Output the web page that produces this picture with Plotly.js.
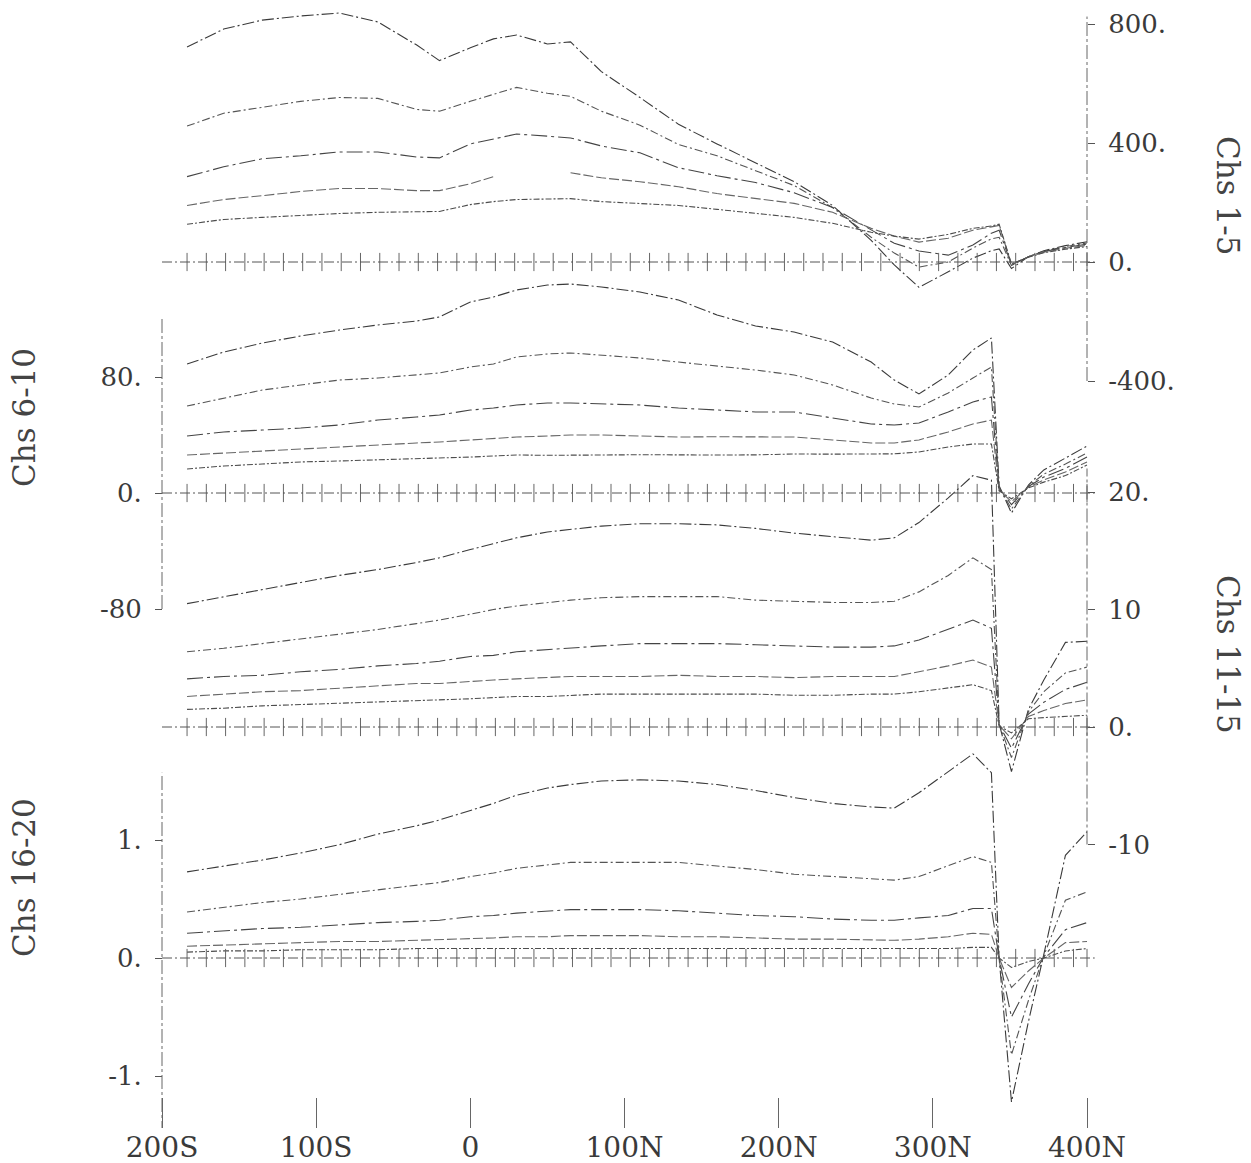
<!DOCTYPE html>
<html><head><meta charset="utf-8">
<script src="https://cdn.plot.ly/plotly-3.0.1.min.js"></script>
<style>html,body{margin:0;padding:0;background:#fff}#chart{width:1251px;height:1163px}</style>
</head><body><div id="chart"></div>
<script>
// ---- data ----
const stations = [-183.75, -160, -135, -110, -85, -60, -35, -20, 0, 15, 30, 50, 65, 85, 110, 135, 160, 185, 210, 235, 260, 275, 291, 310, 326, 338, 343, 351, 362, 372, 386, 400];
const tickStations = [-183.75,-171.25,-158.75,-146.25,-133.75,-121.25,-108.75,-96.25,-83.75,-71.25,-58.75,-46.25,-33.75,-21.25,-8.75,3.75,16.25,28.75,41.25,53.75,66.25,78.75,91.25,103.75,116.25,128.75,141.25,153.75,166.25,178.75,191.25,203.75,216.25,228.75,241.25,253.75,266.25,278.75,291.25,303.75,316.25,328.75,341.25,353.75,366.25,378.75,391.25,400];

// Chs 1-5
const ch1 = [723, 783, 813, 827, 837, 807, 730, 677, 720, 750, 763, 733, 740, 640, 553, 463, 397, 333, 270, 190, 73, -10, -85, -33, 13, 38, 44, -22, 18, 38, 55, 68];
const ch2 = [457, 500, 520, 540, 553, 550, 513, 507, 540, 563, 587, 567, 557, 507, 460, 395, 357, 307, 257, 183, 83, 30, -17, 0, 47, 78, 83, -12, 18, 36, 52, 64];
const ch3 = [287, 320, 347, 357, 370, 370, 353, 350, 397, 413, 430, 423, 417, 390, 367, 317, 290, 267, 233, 183, 107, 63, 37, 23, 57, 97, 107, -10, 18, 35, 49, 60];
const ch4 = [190, 210, 223, 237, 247, 247, 240, 240, 263, 287, null, null, 300, 283, 270, 253, 230, 213, 197, 167, 113, 87, 67, 80, 107, 118, 123, -8, 17, 33, 46, 56];
const ch5 = [127, 143, 150, 157, 163, 167, 170, 170, 193, 203, 210, 213, 213, 203, 197, 190, 177, 163, 150, 130, 100, 87, 77, 93, 113, 121, 127, -6, 16, 31, 43, 52];
// Chs 6-10
const ch6 = [89.0, 97.2, 103.4, 108.3, 112.4, 115.9, 118.6, 121.4, 131.7, 135.2, 140.0, 143.4, 144.1, 142.1, 138.6, 133.1, 122.8, 115.2, 111.0, 104.1, 90.3, 77.9, 68.3, 81.4, 98.6, 106.9, 5, -13.8, 5.5, 15.9, 24.1, 32.4];
const ch7 = [60, 65.5, 71, 74.5, 77.9, 79.3, 81.4, 82.8, 86.9, 89, 93.8, 95.9, 96.6, 95.2, 93.1, 90.3, 87.6, 84.8, 81.4, 74.5, 65.5, 61.4, 59.3, 69, 79.3, 86.9, 4, -11, 4.8, 13, 20, 27.6];
const ch8 = [39.3, 42.1, 43.4, 44.8, 46.9, 50.3, 52.4, 53.8, 57.2, 58.6, 60.7, 62.1, 62.1, 61.4, 60.7, 58.6, 57.2, 55.9, 55.9, 51.7, 47.6, 46.9, 48.3, 55.9, 62.8, 66.2, 3, -8, 4.5, 11, 17, 24.8];
const ch9 = [26.2, 27.6, 29, 30.3, 31.7, 33.1, 34.5, 35.2, 36.6, 37.2, 38.6, 39.3, 40, 40, 39.3, 38.6, 38.8, 38.5, 38.6, 36.6, 34.5, 34.5, 36.6, 42.1, 47.6, 50.3, 2, -6, 4, 9, 14.5, 21.4];
const ch10 = [16.6, 18.6, 20, 21.4, 22.1, 22.8, 23.4, 24.1, 24.8, 25.5, 26.2, 26.0, 26.3, 26.2, 26.4, 26.1, 26.2, 26.3, 26.9, 26.8, 26.9, 27.0, 28.3, 31.7, 33.8, 33.8, 1.5, -4, 3.5, 7.5, 12, 19.3];
// Chs 11-15
const ch11 = [10.5, 11.1, 11.7, 12.3, 12.9, 13.4, 14.0, 14.4, 15.1, 15.6, 16.1, 16.6, 16.8, 17.1, 17.3, 17.3, 17.2, 16.9, 16.5, 16.2, 15.9, 16.1, 17.4, 19.5, 21.4, 21.0, 0.3, -3.8, 1.5, 4.0, 7.2, 7.3];
const ch12 = [6.4, 6.7, 7.1, 7.5, 7.9, 8.3, 8.8, 9.1, 9.6, 10.0, 10.3, 10.6, 10.8, 11.0, 11.1, 11.1, 11.1, 10.8, 10.7, 10.6, 10.6, 10.7, 11.5, 12.9, 14.4, 13.4, 0.25, -2.6, 1.3, 3.0, 4.6, 5.1];
const ch13 = [4.1, 4.3, 4.4, 4.7, 4.9, 5.2, 5.4, 5.6, 6.0, 6.1, 6.4, 6.6, 6.7, 6.9, 7.1, 7.1, 7.1, 7.0, 6.9, 6.8, 6.8, 6.9, 7.4, 8.3, 9.1, 8.4, 0.2, -1.8, 1.1, 2.1, 3.2, 3.8];
const ch14 = [2.6, 2.8, 3.0, 3.1, 3.3, 3.5, 3.7, 3.7, 3.9, 4.0, 4.1, 4.2, 4.3, 4.3, 4.3, 4.4, 4.3, 4.3, 4.2, 4.3, 4.3, 4.3, 4.7, 5.2, 5.7, 5.1, 0.15, -1.0, 0.9, 1.4, 2.0, 2.3];
const ch15 = [1.5, 1.6, 1.8, 1.9, 2.0, 2.1, 2.2, 2.3, 2.4, 2.5, 2.6, 2.6, 2.7, 2.8, 2.8, 2.8, 2.8, 2.8, 2.7, 2.7, 2.8, 2.8, 3.0, 3.3, 3.6, 3.1, 0.1, -0.5, 0.7, 0.8, 0.9, 1.0];
// Chs 16-20
const ch16 = [0.73, 0.78, 0.83, 0.89, 0.96, 1.05, 1.12, 1.17, 1.25, 1.31, 1.38, 1.44, 1.47, 1.50, 1.51, 1.50, 1.47, 1.42, 1.36, 1.31, 1.28, 1.27, 1.40, 1.58, 1.73, 1.57, 0, -1.22, -0.54, 0.03, 0.87, 1.07];
const ch17 = [0.39, 0.43, 0.47, 0.50, 0.54, 0.58, 0.62, 0.64, 0.69, 0.72, 0.76, 0.79, 0.81, 0.81, 0.81, 0.81, 0.78, 0.75, 0.71, 0.69, 0.67, 0.66, 0.69, 0.78, 0.86, 0.81, 0, -0.82, -0.36, 0.02, 0.49, 0.56];
const ch18 = [0.21, 0.23, 0.25, 0.26, 0.28, 0.30, 0.31, 0.32, 0.35, 0.36, 0.38, 0.40, 0.41, 0.41, 0.41, 0.40, 0.38, 0.36, 0.35, 0.33, 0.32, 0.32, 0.34, 0.36, 0.42, 0.42, 0, -0.50, -0.22, 0.01, 0.24, 0.30];
const ch19 = [0.10, 0.11, 0.12, 0.13, 0.14, 0.14, 0.15, 0.15, 0.16, 0.17, 0.18, 0.18, 0.19, 0.19, 0.19, 0.18, 0.18, 0.17, 0.16, 0.16, 0.15, 0.15, 0.16, 0.18, 0.21, 0.20, 0, -0.25, -0.11, 0, 0.13, 0.14];
const ch20 = [0.05, 0.06, 0.06, 0.07, 0.07, 0.07, 0.08, 0.08, 0.08, 0.08, 0.08, 0.08, 0.08, 0.08, 0.08, 0.08, 0.08, 0.08, 0.08, 0.08, 0.08, 0.08, 0.08, 0.08, 0.09, 0.09, 0, -0.08, -0.03, 0, 0.06, 0.08];

const xTickVals = [-200, -100, 0, 100, 200, 300, 400];
const xTickText = ['200S', '100S', '0', '100N', '200N', '300N', '400N'];
const p1TickVals = [800, 400, 0, -400], p1TickText = ['800.', '400.', '0.', '-400.'];
const p2TickVals = [80, 0, -80], p2TickText = ['80.', '0.', '-80'];
const p3TickVals = [20, 10, 0, -10], p3TickText = ['20.', '10', '0.', '-10'];
const p4TickVals = [1, 0, -1], p4TickText = ['1.', '0.', '-1.'];
const panelNames = ['Chs 1-5', 'Chs 6-10', 'Chs 11-15', 'Chs 16-20'];
const axisSpans = [[-400, 825], [-80, 121], [-10, 22], [-1.5, 1.57]];

// ---- layout geometry ----
const W = 1251, H = 1163, L = 140, R = 150, T = 0, B = 35;
const plotW = W - L - R, plotH = H - T - B;
const xs = (1087 - 162) / 600;
const xRange = [-200 - (162 - L) / xs, 400 + (W - R - 1087) / xs];
const anchors = [{zero: 262, s: 0.2975}, {zero: 493, s: 1.45}, {zero: 727, s: 11.75}, {zero: 958, s: 118}];
const yRange = a => [-(T + plotH - a.zero) / a.s, (a.zero - T) / a.s];
const posRight = (1087 - L) / plotW, posLeft = (162 - L) / plotW;
const px2paperX = p => (p - L) / plotW;
const px2paperY = p => (T + plotH - p) / plotH;

const dashes = ['12px,3px,2px,3px', '8px,3px,2px,3px', '16px,4px,3px,4px', '10px,3px', '6px,2px,2px,2px'];
const colors = ['#3a3a3a', '#555', '#444', '#666', '#4d4d4d'];
const panels = [[ch1, ch2, ch3, ch4, ch5], [ch6, ch7, ch8, ch9, ch10], [ch11, ch12, ch13, ch14, ch15], [ch16, ch17, ch18, ch19, ch20]];
const yNames = ['y', 'y2', 'y3', 'y4'];

const traces = [];
panels.forEach((chs, p) => {
  chs.forEach((vals, i) => {
    traces.push({x: stations, y: vals, yaxis: yNames[p], type: 'scatter', mode: 'lines',
      line: {color: colors[i], width: 1.1, dash: dashes[i]}, hoverinfo: 'skip', connectgaps: false});
  });
  traces.push({x: tickStations, y: tickStations.map(() => 0), yaxis: yNames[p], type: 'scatter', mode: 'markers',
    marker: {symbol: 'line-ns-open', size: 13, color: '#666', line: {color: '#666', width: 1}}, hoverinfo: 'skip'});
});

const tickFont = {family: 'DejaVu Serif', size: 26, color: '#3a3a3a'};
const yCommon = {showgrid: false, zeroline: false, showline: false, ticks: 'outside', ticklen: 7,
  tickcolor: '#555', tickwidth: 1, tickfont: tickFont, tickmode: 'array', automargin: false, ticklabelstandoff: 8};

const shapes = [];
const axisX = [400, -200, 400, -200];
axisSpans.forEach((sp, p) => {
  shapes.push({type: 'line', xref: 'x', yref: yNames[p], x0: axisX[p], x1: axisX[p], y0: sp[0], y1: sp[1],
    line: {color: '#666', width: 1, dash: '14px,3px,3px,3px'}});
  shapes.push({type: 'line', xref: 'x', yref: yNames[p], x0: -200, x1: 405, y0: 0, y1: 0,
    line: {color: '#555', width: 1, dash: '10px,3px,2px,3px'}});
});

const labelPos = [[1228, 195, 90], [24, 418, -90], [1228, 654, 90], [24, 878, -90]];
const annotations = panelNames.map((t, i) => ({text: t, xref: 'paper', yref: 'paper',
  x: px2paperX(labelPos[i][0]), y: px2paperY(labelPos[i][1]), showarrow: false, textangle: labelPos[i][2],
  xanchor: 'center', yanchor: 'middle', font: {family: 'DejaVu Serif', size: 31, color: '#444'}}));

const layout = {
  width: W, height: H, margin: {l: L, r: R, t: T, b: B, pad: 0},
  paper_bgcolor: '#fff', plot_bgcolor: '#fff', showlegend: false,
  xaxis: {range: xRange, anchor: 'free', position: 0, showgrid: false, zeroline: false, showline: false,
    ticks: 'inside', ticklen: 30, tickcolor: '#666', tickwidth: 1, tickmode: 'array',
    tickvals: xTickVals, ticktext: xTickText, tickfont: {family: 'DejaVu Serif', size: 28, color: '#3a3a3a'}, automargin: false},
  yaxis: Object.assign({}, yCommon, {range: yRange(anchors[0]), anchor: 'free', position: posRight, side: 'right',
    tickvals: p1TickVals, ticktext: p1TickText}),
  yaxis2: Object.assign({}, yCommon, {range: yRange(anchors[1]), overlaying: 'y', anchor: 'free', position: posLeft, side: 'left',
    tickvals: p2TickVals, ticktext: p2TickText}),
  yaxis3: Object.assign({}, yCommon, {range: yRange(anchors[2]), overlaying: 'y', anchor: 'free', position: posRight, side: 'right',
    tickvals: p3TickVals, ticktext: p3TickText}),
  yaxis4: Object.assign({}, yCommon, {range: yRange(anchors[3]), overlaying: 'y', anchor: 'free', position: posLeft, side: 'left',
    tickvals: p4TickVals, ticktext: p4TickText}),
  shapes: shapes, annotations: annotations
};

Plotly.newPlot('chart', traces, layout, {staticPlot: true, displayModeBar: false});
</script>
</body></html>
